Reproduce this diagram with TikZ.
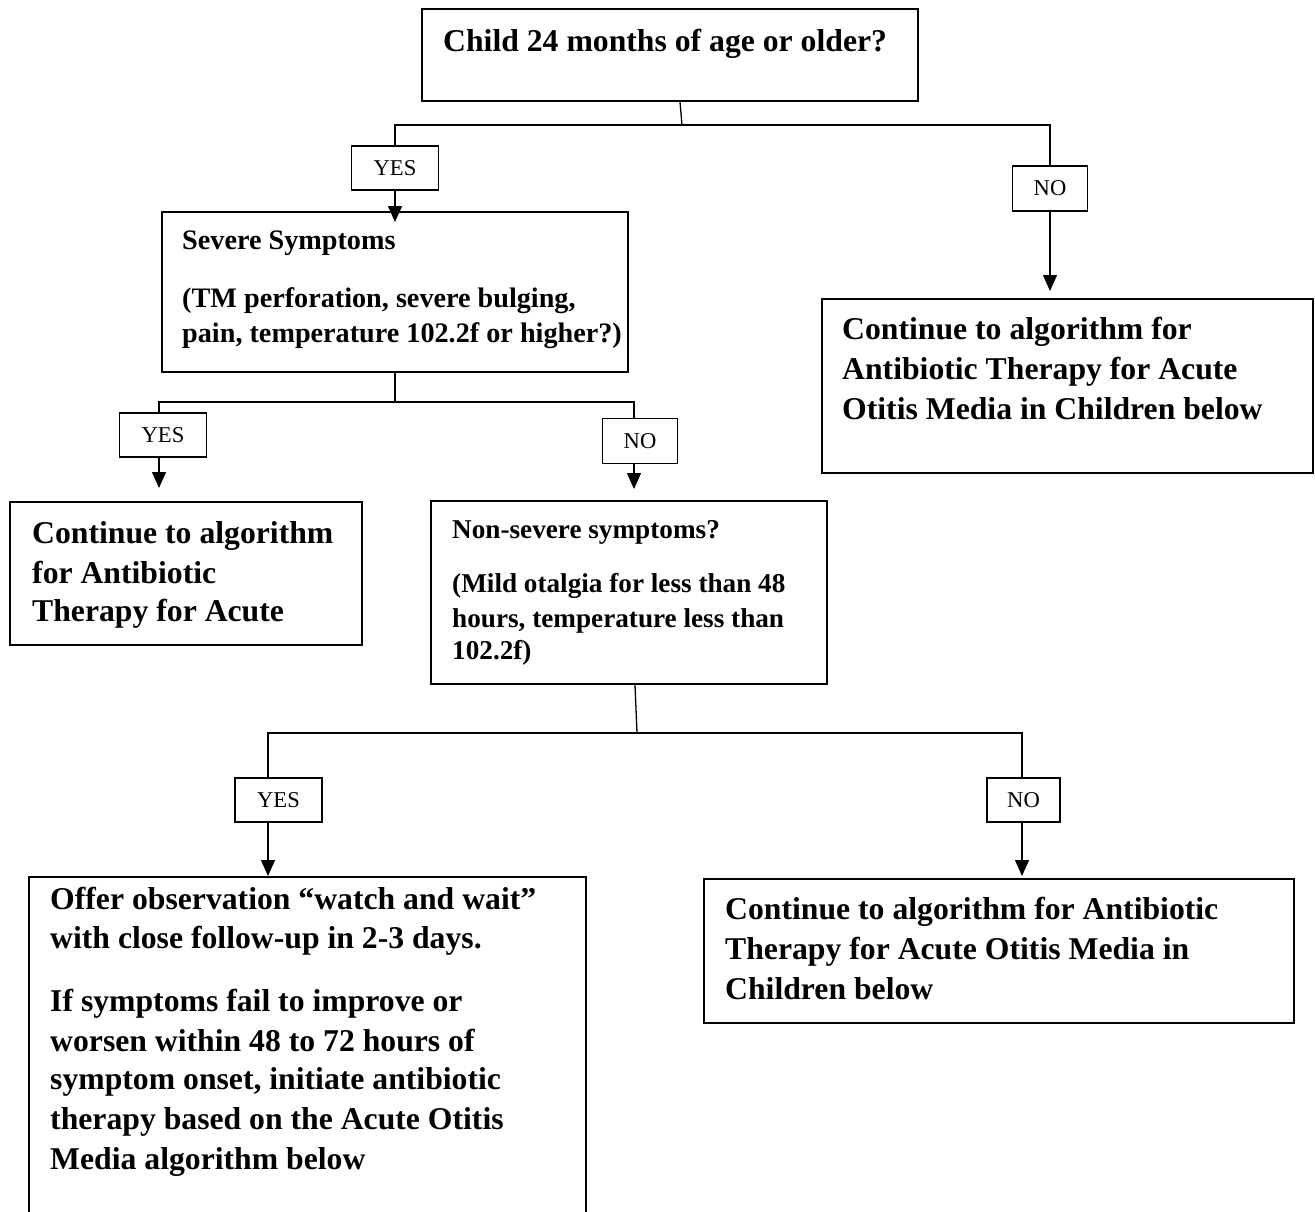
\documentclass[tikz,border=0pt]{standalone}
\usepackage{fontspec}
\setmainfont{Liberation Serif}
\usetikzlibrary{arrows.meta,calc}
\newcommand\fbig{\bfseries\fontsize{31.7}{40}\selectfont}
\newcommand\fsmall{\bfseries\fontsize{27.2}{33}\selectfont}
\newcommand\fsev{\bfseries\fontsize{28.2}{33}\selectfont}
\newcommand\flbl{\fontsize{22.6}{26}\selectfont}
\tikzset{
  box/.style={draw, line width=2pt, inner sep=0pt, anchor=north west},
  lbl/.style={draw, line width=1.2pt, inner sep=0pt, font=\flbl},
  tbig/.style={anchor=base west, inner sep=0pt, font=\fbig},
  tsmall/.style={anchor=base west, inner sep=0pt, font=\fsmall},
  tsev/.style={anchor=base west, inner sep=0pt, font=\fsev},
  conn/.style={line width=1.3pt},
  arr/.style={conn, -{Triangle[width=14pt,length=16pt]}}
}
\begin{document}
\begin{tikzpicture}[x=1pt,y=-1pt]
\clip (0,0) rectangle (1315,1212);
\fill[white] (0,0) rectangle (1315,1212);

% boxes
\node[box, minimum width=496pt, minimum height=92pt] (b1) at (421,8) {};
\node[box, minimum width=466pt, minimum height=160pt] (sev) at (161,211) {};
\node[box, minimum width=491pt, minimum height=174pt] (cr) at (821,298) {};
\node[box, minimum width=352pt, minimum height=143pt] (cl) at (9,501) {};
\node[box, minimum width=396pt, minimum height=183pt] (ns) at (430,500) {};
\node[box, minimum width=557pt, minimum height=420pt] (obs) at (28,876) {};
\node[box, minimum width=590pt, minimum height=144pt] (c3) at (703,878) {};

% labels
\node[lbl, minimum width=87pt, minimum height=44pt] (y1) at (395,168) {YES};
\node[lbl, minimum width=75pt, minimum height=45pt] (n1) at (1050,188.5) {NO};
\node[lbl, minimum width=87pt, minimum height=44pt] (y2) at (163,435) {YES};
\node[lbl, minimum width=75pt, minimum height=45pt] (n2) at (640,441) {NO};
\node[lbl, minimum width=87pt, minimum height=44pt] (y3) at (278.5,800) {YES};
\node[lbl, minimum width=73pt, minimum height=44pt] (n3) at (1023.5,800) {NO};

% texts
\node[tbig] (t1) at (443,52) {Child 24 months of age or older?};

\node[tsev] (s1) at (182,249) {Severe Symptoms};
\node[tsev] (s2) at (182,307) {(TM perforation, severe bulging,};
\node[tsev] (s3) at (182,342) {pain, temperature 102.2f or higher?)};

\node[tbig] (r1) at (842,339) {Continue to algorithm for};
\node[tbig] (r2) at (842,379) {Antibiotic Therapy for Acute};
\node[tbig] (r3) at (842,419) {Otitis Media in Children below};

\node[tbig] (l1) at (32,543) {Continue to algorithm};
\node[tbig] (l2) at (32,583) {for Antibiotic};
\node[tbig] (l3) at (32,621) {Therapy for Acute};

\node[tsmall] (m1) at (452,538) {Non-severe symptoms?};
\node[tsmall] (m2) at (452,592) {(Mild otalgia for less than 48};
\node[tsmall] (m3) at (452,627) {hours, temperature less than};
\node[tsmall] (m4) at (452,659) {102.2f)};

\node[tbig] (o1) at (50,909) {Offer observation “watch and wait”};
\node[tbig] (o2) at (50,948) {with close follow-up in 2-3 days.};
\node[tbig] (o3) at (50,1011) {If symptoms fail to improve or};
\node[tbig] (o4) at (50,1051) {worsen within 48 to 72 hours of};
\node[tbig] (o5) at (50,1089) {symptom onset, initiate antibiotic};
\node[tbig] (o6) at (50,1129) {therapy based on the Acute Otitis};
\node[tbig] (o7) at (50,1169) {Media algorithm below};

\node[tbig] (c31) at (725,919) {Continue to algorithm for Antibiotic};
\node[tbig] (c32) at (725,959) {Therapy for Acute Otitis Media in};
\node[tbig] (c33) at (725,999) {Children below};

% junction coordinates
\coordinate (j1) at (682,125);
\coordinate (j2) at (395,402);
\coordinate (j3) at (637,733);
\coordinate (xa) at (159,0);
\coordinate (xb) at (634,0);
\coordinate (xc) at (268,0);
\coordinate (xd) at (1022,0);

% connectors: level 1
\draw[conn] ([xshift=-2pt]b1.south -| j1) -- (j1);
\draw[conn] (y1.north) |- (j1) -| (n1.north);
\draw[arr, shorten >=-11pt] (y1.south) -- (y1.south |- sev.north);
\draw[arr, shorten >=7pt] (n1.south) -- (n1.south |- cr.north);

% level 2
\draw[conn] (sev.south -| j2) -- (j2);
\draw[conn] (y2.north -| xa) |- (j2) -| (n2.north -| xb);
\draw[arr, shorten >=13pt] (y2.south -| xa) -- (cl.north -| xa);
\draw[arr, shorten >=11pt] (n2.south -| xb) -- (ns.north -| xb);

% level 3
\draw[conn] ([xshift=-2pt]ns.south -| j3) -- (j3);
\draw[conn] (y3.north -| xc) |- (j3) -| (n3.north -| xd);
\draw[arr] (y3.south -| xc) -- (obs.north -| xc);
\draw[arr, shorten >=2pt] (n3.south -| xd) -- (c3.north -| xd);
\end{tikzpicture}
\end{document}
